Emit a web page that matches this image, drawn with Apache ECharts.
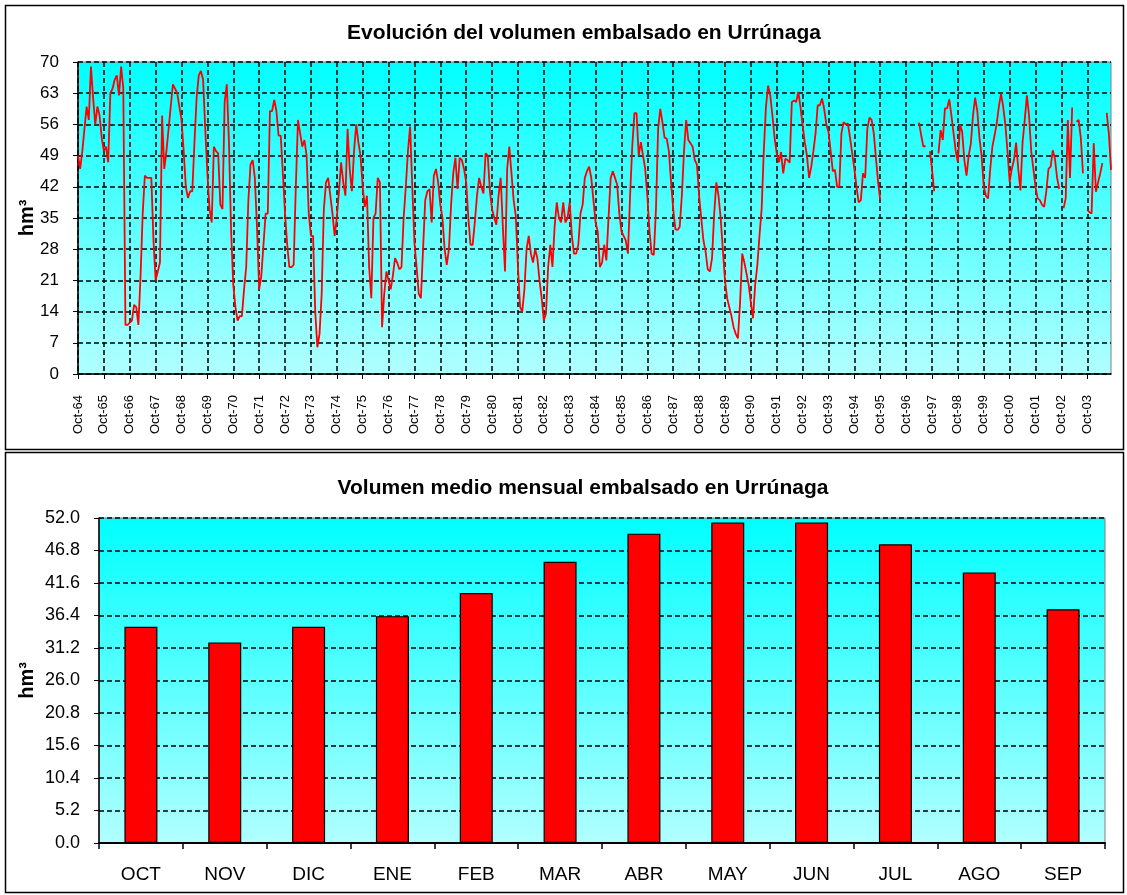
<!DOCTYPE html>
<html>
<head>
<meta charset="utf-8">
<script src="https://cdn.jsdelivr.net/npm/echarts@6/dist/echarts.min.js"></script>
<style>
  html, body { margin: 0; padding: 0; background: #ffffff; }
  #chart { width: 1127px; height: 895px; }
</style>
</head>
<body>
<div id="chart"></div>
<script>
// Volumen embalsado mensual (hm³), año hidrológico oct–sep, una década por tabla
const vol1964_1974 = [
  49, 46, 50, 55, 60, 57, 69, 62, 56, 60, 58, 53,
  50, 51, 47.5, 63, 64, 66, 67, 62.5, 69, 64, 11, 11,
  11.5, 12, 15.5, 15, 11, 22, 36, 44.5, 44, 44, 44, 30,
  21, 23, 25, 58, 46, 50, 55, 60, 65, 64, 63, 60,
  57, 50, 42, 39.5, 41, 41, 52, 62, 67, 68, 66, 55,
  45, 37, 34, 51, 50, 49.5, 38, 37, 61, 65, 52, 32,
  20, 15, 12, 13, 13, 19, 24, 39, 47, 48, 44, 33,
  19, 22, 29, 36, 36, 59, 59, 61.5, 59, 53.5, 53.5, 45,
  36, 29, 24, 24, 24.5, 42, 57, 54, 51, 52.5, 49, 36,
  31, 31, 14, 6, 9, 18, 37, 43, 44, 40, 36, 31
];
const vol1974_1984 = [
  35, 41, 47.5, 43, 40, 55, 46, 41, 50, 56, 52, 49,
  42, 37.5, 40, 24, 17, 35, 36, 44, 43, 10.5, 18, 23,
  21, 19, 22, 26, 25, 23.5, 24, 35, 42, 50, 55.5, 42,
  29.5, 24, 18, 17, 28, 39, 41, 41.5, 34, 44.5, 46, 43,
  38, 35, 28, 24.5, 28, 38, 45, 48.5, 41.5, 48.5, 48, 46,
  43, 35, 29, 29, 34, 40, 44, 42, 40.5, 49.5, 49, 41,
  37, 35, 33.5, 40, 44, 33, 23, 46, 51, 45, 39, 35.5,
  24, 15, 14, 19, 28, 31, 27, 25, 28, 26, 21, 17,
  12, 13.5, 24, 29, 24, 33, 38.5, 35, 34, 38.5, 34, 35,
  38.5, 31, 27, 27, 29, 36, 38, 44, 45.5, 46.5, 44, 39
];
const vol1984_1994 = [
  34, 32, 24, 25, 29, 25.5, 35, 44, 45.5, 44, 42.5, 36,
  32, 31, 30, 27, 40, 51, 58.5, 58.5, 49, 52, 49, 46,
  40, 32, 27, 26.7, 37, 55, 59.5, 56.5, 53, 52.8, 50, 43,
  37, 32.5, 32.3, 33, 40, 50, 57, 52.5, 51.8, 51, 48, 47,
  40, 35, 30, 27.5, 23.5, 23, 26, 36, 43, 40, 35, 28,
  21, 17, 15, 13, 10.5, 9, 8, 16, 27, 25, 22.5, 20,
  16, 12.5, 20, 24.4, 31, 37, 50, 60, 64.7, 62.5, 58, 53,
  49.5, 47.5, 49.8, 45, 48.3, 48, 47.4, 61, 61.4, 61, 63.3, 60,
  55.8, 52, 49, 44, 46.5, 50, 54, 60.3, 60.3, 61.8, 59.5, 56,
  54.3, 50, 45.5, 45.8, 42, 42, 54, 56.5, 56, 56.2, 53, 49.5
];
const vol1994_2004 = [
  46, 42, 38.5, 39, 45, 44, 55, 57.5, 57, 54, 48.5, 43,
  39, null, null, null, null, null, null, null, null, null, null, null,
  null, null, null, null, null, null, 56.4, 53.5, 51, 51.2, null, 50,
  46, 41, null, 49.5, 54.7, 52.5, 59.6, 59.6, 61.6, 58, 54, 50,
  47.5, 56, 54.3, 48, 44.5, 49, 51.7, 58, 62, 59, 53, 49,
  42, 40, 39.4, 46, 51, 53.5, 56.2, 60, 62.9, 60, 56, 50,
  43.1, 46, 48, 51.9, 46, 41.2, 52, 57, 62.5, 58, 50, 46,
  42, 39.4, 39, 38, 37.5, 41, 46, 46.5, 50.2, 48.3, 44, 41.5,
  null, 37.2, 39.4, 57, 44, 59.8, null, 56.6, 57, 53, 45, null,
  36.8, 36.3, 36, 51.8, 40.9, 43, 45, 47.3, null, 58.6, 54, 45.8
];

// Rótulos del eje temporal: uno por año hidrológico (octubre)
const yearLabels = [
  'Oct-64', 'Oct-65', 'Oct-66', 'Oct-67', 'Oct-68', 'Oct-69', 'Oct-70', 'Oct-71',
  'Oct-72', 'Oct-73', 'Oct-74', 'Oct-75', 'Oct-76', 'Oct-77', 'Oct-78', 'Oct-79',
  'Oct-80', 'Oct-81', 'Oct-82', 'Oct-83', 'Oct-84', 'Oct-85', 'Oct-86', 'Oct-87',
  'Oct-88', 'Oct-89', 'Oct-90', 'Oct-91', 'Oct-92', 'Oct-93', 'Oct-94', 'Oct-95',
  'Oct-96', 'Oct-97', 'Oct-98', 'Oct-99', 'Oct-00', 'Oct-01', 'Oct-02', 'Oct-03'
];
const hydroMonths = ['Oct', 'Nov', 'Dic', 'Ene', 'Feb', 'Mar', 'Abr', 'May', 'Jun', 'Jul', 'Ago', 'Sep'];

// Medias mensuales (hm³)
const monthCategories = ['OCT', 'NOV', 'DIC', 'ENE', 'FEB', 'MAR', 'ABR', 'MAY', 'JUN', 'JUL', 'AGO', 'SEP'];
const monthlyMean = [34.6, 32.1, 34.6, 36.3, 40.0, 45.0, 49.5, 51.3, 51.3, 47.8, 43.3, 37.4];

const volumeSeries = [].concat(vol1964_1974, vol1974_1984, vol1984_1994, vol1994_2004);
const timeCategories = [];
yearLabels.forEach(function (lab, y) {
  const yy = lab.slice(4);
  hydroMonths.forEach(function (m, k) {
    timeCategories.push(k === 0 ? lab : m + '-' + yy);
  });
});

const FONT = '"Liberation Sans", Arial, sans-serif';
const yearTick = function (index) { return index % 12 === 0; };
const gridFill = {
  type: 'linear', x: 0, y: 0, x2: 0, y2: 1,
  colorStops: [{ offset: 0, color: '#00ffff' }, { offset: 1, color: '#b2ffff' }]
};
const dashed = { color: '#000000', width: 1.5, type: [5, 3] };

const chart = echarts.init(document.getElementById('chart'), null, { renderer: 'canvas' });
chart.setOption({
  animation: false,
  backgroundColor: '#ffffff',
  textStyle: { fontFamily: FONT },
  graphic: [
    { type: 'rect', shape: { x: 5.5, y: 5.5, width: 1118, height: 444 },
      style: { fill: 'none', stroke: '#000000', lineWidth: 1.5 }, silent: true },
    { type: 'rect', shape: { x: 5.5, y: 452.5, width: 1118, height: 440 },
      style: { fill: 'none', stroke: '#000000', lineWidth: 1.5 }, silent: true }
  ],
  title: [
    { text: 'Evolución del volumen embalsado en Urrúnaga', left: 579, top: 18, textAlign: 'center',
      textStyle: { fontFamily: FONT, fontSize: 21, fontWeight: 'bold', color: '#000000' } },
    { text: 'Volumen medio mensual embalsado en Urrúnaga', left: 578, top: 473, textAlign: 'center',
      textStyle: { fontFamily: FONT, fontSize: 21, fontWeight: 'bold', color: '#000000' } }
  ],
  grid: [
    { left: 78, top: 62, width: 1033, height: 312, show: true, backgroundColor: gridFill,
      borderColor: '#808080', borderWidth: 1 },
    { left: 99, top: 518, width: 1006, height: 325, show: true, backgroundColor: gridFill,
      borderColor: '#808080', borderWidth: 1 }
  ],
  xAxis: [
    { type: 'category', gridIndex: 0, data: timeCategories, boundaryGap: false,
      axisLine: { lineStyle: { color: '#000000', width: 1.5 } },
      axisTick: { show: true, interval: yearTick, length: 5, lineStyle: { color: '#000000' } },
      axisLabel: { interval: yearTick, rotate: 90, fontSize: 13, color: '#000000', margin: 21, fontFamily: FONT },
      splitLine: { show: true, interval: yearTick, lineStyle: dashed } },
    { type: 'category', gridIndex: 1, data: monthCategories, boundaryGap: true,
      axisLine: { lineStyle: { color: '#000000', width: 2 } },
      axisTick: { show: true, length: 6, lineStyle: { color: '#000000', width: 1.5 } },
      axisLabel: { fontSize: 19, color: '#000000', margin: 22, fontFamily: FONT },
      splitLine: { show: false } }
  ],
  yAxis: [
    { type: 'value', gridIndex: 0, min: 0, max: 70, interval: 7,
      name: 'hm³', nameLocation: 'middle', nameGap: 41, nameMoveOverlap: false,
      nameTextStyle: { fontFamily: FONT, fontSize: 20, fontWeight: 'bold', color: '#000000' },
      axisLine: { show: true, lineStyle: { color: '#000000', width: 1.5 } },
      axisTick: { show: true, length: 5, lineStyle: { color: '#000000' } },
      axisLabel: { fontSize: 17, color: '#000000', margin: 19, fontFamily: FONT },
      splitLine: { show: true, lineStyle: dashed } },
    { type: 'value', gridIndex: 1, min: 0, max: 52, interval: 5.2,
      name: 'hm³', nameLocation: 'middle', nameGap: 62, nameMoveOverlap: false,
      nameTextStyle: { fontFamily: FONT, fontSize: 20, fontWeight: 'bold', color: '#000000' },
      axisLine: { show: true, lineStyle: { color: '#000000', width: 1.5 } },
      axisTick: { show: true, length: 5, lineStyle: { color: '#000000' } },
      axisLabel: { fontSize: 18, color: '#000000', margin: 19, fontFamily: FONT,
        formatter: function (v) { return v.toFixed(1); } },
      splitLine: { show: true, lineStyle: dashed } }
  ],
  series: [
    { type: 'line', xAxisIndex: 0, yAxisIndex: 0, data: volumeSeries,
      showSymbol: false, connectNulls: false,
      lineStyle: { color: '#ff0000', width: 1.8 } },
    { type: 'bar', xAxisIndex: 1, yAxisIndex: 1, data: monthlyMean, barWidth: 33,
      itemStyle: { color: '#ff0000', borderColor: '#000000', borderWidth: 1.2 } }
  ]
});
</script>
</body>
</html>
